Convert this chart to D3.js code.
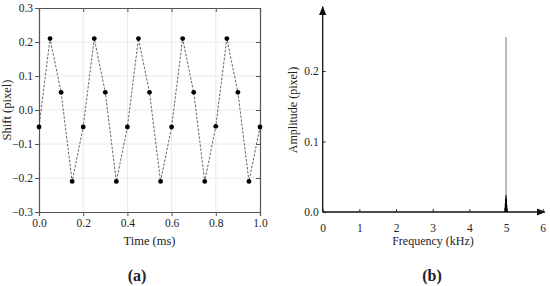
<!DOCTYPE html>
<html>
<head>
<meta charset="utf-8">
<script src="https://cdn.jsdelivr.net/npm/d3@7"></script>
<style>
  body { margin: 0; background: #fff; }
  svg { display: block; }
  text { font-family: "Liberation Serif", "DejaVu Serif", serif; fill: #222; }
</style>
</head>
<body>
<svg id="chart" width="550" height="286"></svg>
<script>
// panel (a): sampled shift vs time
const timeMs = [0, 0.05, 0.1, 0.15, 0.2, 0.25, 0.3, 0.35, 0.4, 0.45, 0.5,
                0.55, 0.6, 0.65, 0.7, 0.75, 0.8, 0.85, 0.9, 0.95, 1.0];
const shiftPx = [-0.05, 0.21, 0.052, -0.21, -0.05, 0.21, 0.052, -0.21, -0.05, 0.21, 0.052,
                 -0.21, -0.05, 0.21, 0.052, -0.21, -0.048, 0.21, 0.052, -0.21, -0.05];
const timeTicks = [0, 0.2, 0.4, 0.6, 0.8, 1.0];
const shiftTicks = [-0.3, -0.2, -0.1, 0, 0.1, 0.2, 0.3];

// panel (b): spectrum
const peakFreq = [5.0];
const peakAmp = [0.248];
const sideFreq = [4.97, 4.98, 4.99, 5.0, 5.01, 5.02, 5.03];
const sideAmp = [0.006, 0.012, 0.02, 0.024, 0.018, 0.01, 0.005];
const freqTicks = [0, 1, 2, 3, 4, 5, 6];
const ampTicks = [0, 0.1, 0.2];

const svg = d3.select('#chart');

// ---------- panel (a) ----------
const xa = d3.scaleLinear().domain([0, 1]).range([39, 260]);
const ya = d3.scaleLinear().domain([-0.3, 0.3]).range([212, 8]);
const ga = svg.append('g');

// light grid
ga.append('g').selectAll('line').data(timeTicks.slice(1, -1)).enter().append('line')
  .attr('x1', d => xa(d)).attr('x2', d => xa(d))
  .attr('y1', ya(0.3)).attr('y2', ya(-0.3))
  .attr('stroke', '#e4e4e4').attr('stroke-width', 0.8);
ga.append('g').selectAll('line').data(shiftTicks.slice(1, -1)).enter().append('line')
  .attr('x1', xa(0)).attr('x2', xa(1))
  .attr('y1', d => ya(d)).attr('y2', d => ya(d))
  .attr('stroke', '#e4e4e4').attr('stroke-width', 0.8);

const fmt1 = d => d3.format('.1f')(d);
const axA = [
  ga.append('g').attr('transform', `translate(0,${ya(-0.3)})`)
    .call(d3.axisBottom(xa).tickValues(timeTicks).tickFormat(fmt1).tickSize(4).tickPadding(3)),
  ga.append('g').attr('transform', `translate(${xa(0)},0)`)
    .call(d3.axisLeft(ya).tickValues(shiftTicks).tickFormat(fmt1).tickSize(4).tickPadding(2)),
  ga.append('g').attr('transform', `translate(0,${ya(0.3)})`)
    .call(d3.axisBottom(xa).tickValues(timeTicks).tickFormat('').tickSize(4)),
  ga.append('g').attr('transform', `translate(${xa(1)},0)`)
    .call(d3.axisLeft(ya).tickValues(shiftTicks).tickFormat('').tickSize(4))
];
axA.forEach(a => {
  a.selectAll('path').attr('stroke', '#555').attr('stroke-width', 1.2);
  a.selectAll('line').attr('stroke', '#555');
  a.selectAll('text').style('font-size', '11.5px').attr('fill', '#222')
    .style('font-family', '"Liberation Serif", serif');
});

const line = d3.line().x((d, i) => xa(timeMs[i])).y(d => ya(d));
ga.append('path').datum(shiftPx)
  .attr('d', line).attr('fill', 'none')
  .attr('stroke', '#555').attr('stroke-width', 0.9).attr('stroke-dasharray', '2.5,1.5');
ga.append('g').selectAll('circle').data(shiftPx).enter().append('circle')
  .attr('cx', (d, i) => xa(timeMs[i])).attr('cy', d => ya(d)).attr('r', 2.4)
  .attr('fill', '#000');

ga.append('text').attr('transform', `translate(11,${ya(0)}) rotate(-90)`)
  .attr('text-anchor', 'middle').style('font-size', '12.5px').text('Shift (pixel)');
ga.append('text').attr('x', (xa(0) + xa(1)) / 2).attr('y', 245)
  .attr('text-anchor', 'middle').style('font-size', '12.5px').text('Time (ms)');
ga.append('text').attr('x', 137).attr('y', 281)
  .attr('text-anchor', 'middle').style('font-size', '16px').style('font-weight', 'bold').text('(a)');

// ---------- panel (b) ----------
const xb = d3.scaleLinear().domain([0, 6]).range([322.7, 542.7]);
const yb = d3.scaleLinear().domain([0, 0.1]).range([212, 141.5]);
const gb = svg.append('g');

svg.append('defs').append('marker').attr('id', 'arrow')
  .attr('viewBox', '0 0 10 10').attr('refX', 9).attr('refY', 5)
  .attr('markerWidth', 7).attr('markerHeight', 7).attr('orient', 'auto')
  .append('path').attr('d', 'M0,1 L10,5 L0,9 Z').attr('fill', '#111');

const axX = gb.append('g').attr('transform', `translate(0,${yb(0)})`)
  .call(d3.axisTop(xb).tickValues(freqTicks).tickFormat(d3.format('d')).tickSize(3).tickPadding(3));
axX.select('.domain').remove();
axX.selectAll('text').attr('y', 12).attr('dy', '0.71em');
const axY = gb.append('g').attr('transform', `translate(${xb(0)},0)`)
  .call(d3.axisRight(yb).tickValues(ampTicks).tickFormat(fmt1).tickSize(3).tickPadding(3));
axY.select('.domain').remove();
axY.selectAll('text').attr('x', -4).attr('text-anchor', 'end');
[axX, axY].forEach(a => {
  a.selectAll('line').attr('stroke', '#333');
  a.selectAll('text').style('font-size', '11.5px').attr('fill', '#222')
    .style('font-family', '"Liberation Serif", serif');
});

gb.append('line').attr('x1', xb(0)).attr('x2', xb(6) + 2)
  .attr('y1', yb(0)).attr('y2', yb(0))
  .attr('stroke', '#111').attr('stroke-width', 1.3).attr('marker-end', 'url(#arrow)');
gb.append('line').attr('x1', xb(0)).attr('x2', xb(0))
  .attr('y1', yb(0)).attr('y2', yb(0.291))
  .attr('stroke', '#111').attr('stroke-width', 1.3).attr('marker-end', 'url(#arrow)');

gb.append('g').selectAll('line').data(peakAmp).enter().append('line')
  .attr('x1', (d, i) => xb(peakFreq[i])).attr('x2', (d, i) => xb(peakFreq[i]))
  .attr('y1', yb(0)).attr('y2', d => yb(d))
  .attr('stroke', '#777').attr('stroke-width', 1);
gb.append('g').selectAll('line').data(sideAmp).enter().append('line')
  .attr('x1', (d, i) => xb(sideFreq[i])).attr('x2', (d, i) => xb(sideFreq[i]))
  .attr('y1', yb(0)).attr('y2', d => yb(d))
  .attr('stroke', '#000').attr('stroke-width', 1.1);

gb.append('text').attr('transform', `translate(297,110) rotate(-90)`)
  .attr('text-anchor', 'middle').style('font-size', '12px').text('Amplitude (pixel)');
gb.append('text').attr('x', 433).attr('y', 245)
  .attr('text-anchor', 'middle').style('font-size', '12px').text('Frequency (kHz)');
gb.append('text').attr('x', 432).attr('y', 281)
  .attr('text-anchor', 'middle').style('font-size', '16px').style('font-weight', 'bold').text('(b)');
</script>
</body>
</html>
